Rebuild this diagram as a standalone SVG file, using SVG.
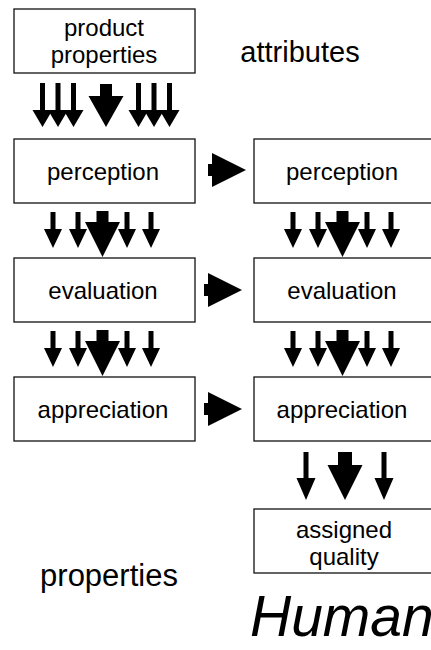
<svg xmlns="http://www.w3.org/2000/svg" xmlns:xlink="http://www.w3.org/1999/xlink" width="431" height="650" viewBox="0 0 431 650">
<style>
.box{fill:#fff;stroke:#222;stroke-width:1.4}
.t{font-family:"Liberation Sans",Arial,sans-serif;font-size:24px;fill:#000;text-anchor:middle}
.big{font-family:"Liberation Sans",Arial,sans-serif;font-size:30px;fill:#000;text-anchor:middle}
.hu{font-family:"Liberation Sans",Arial,sans-serif;font-size:57px;font-style:italic;fill:#000}
.ar{fill:#000;stroke:none}
</style>
<defs>
<g id="fan5" class="ar">
<polygon points="50.5,212 55.5,212 55.5,229 62,229 53,248 44,229 50.5,229"/>
<polygon points="75.5,212 80.5,212 80.5,229 87,229 78,248 69,229 75.5,229"/>
<polygon points="124.5,212 129.5,212 129.5,229 136,229 127,248 118,229 124.5,229"/>
<polygon points="148.5,212 153.5,212 153.5,229 160,229 151,248 142,229 148.5,229"/>
<polygon points="96.5,211 108.5,211 108.5,222 120,222 102.5,257 85,222 96.5,222"/>
</g>
<polygon id="harrow" class="ar" points="0,-6 4,-6 4,-17 38,0 4,17 4,6 0,6"/>
</defs>

<g id="product-properties">
<rect class="box" x="14" y="9" width="181" height="64"/>
<text class="t" x="104" y="36">product</text>
<text class="t" x="104" y="63">properties</text>
</g>
<g id="attributes-label"><text class="big" x="300" y="62" style="font-size:29px">attributes</text></g>

<g id="perception-left">
<rect class="box" x="14" y="139" width="181" height="64"/>
<text class="t" x="103" y="180">perception</text>
</g>
<g id="evaluation-left">
<rect class="box" x="14" y="258" width="181" height="64"/>
<text class="t" x="103" y="299">evaluation</text>
</g>
<g id="appreciation-left">
<rect class="box" x="14" y="377" width="181" height="64"/>
<text class="t" x="103" y="418">appreciation</text>
</g>

<g id="perception-right">
<rect class="box" x="254" y="139" width="181" height="64"/>
<text class="t" x="342" y="180">perception</text>
</g>
<g id="evaluation-right">
<rect class="box" x="254" y="258" width="181" height="64"/>
<text class="t" x="342" y="299">evaluation</text>
</g>
<g id="appreciation-right">
<rect class="box" x="254" y="377" width="181" height="64"/>
<text class="t" x="342" y="418">appreciation</text>
</g>
<g id="assigned-quality">
<rect class="box" x="254" y="509" width="181" height="64"/>
<text class="t" x="344" y="538">assigned</text>
<text class="t" x="344" y="565">quality</text>
</g>

<g id="properties-label"><text class="big" x="109" y="586" style="font-size:31px">properties</text></g>
<g id="human-label"><text class="hu" x="250" y="636">Human</text></g>

<g id="connectors" class="ar">
<polygon points="40,83 45,83 45,110 52.5,110 42.5,127 32.5,110 40,110"/>
<polygon points="55.5,83 60.5,83 60.5,110 68,110 58,127 48,110 55.5,110"/>
<polygon points="71,83 76,83 76,110 83.5,110 73.5,127 63.5,110 71,110"/>
<polygon points="100,84 112,84 112,96 123.5,96 106,127 88.5,96 100,96"/>
<polygon points="136,83 141,83 141,110 148.5,110 138.5,127 128.5,110 136,110"/>
<polygon points="151.5,83 156.5,83 156.5,110 164,110 154,127 144,110 151.5,110"/>
<polygon points="167,83 172,83 172,110 179.5,110 169.5,127 159.5,110 167,110"/>
<use xlink:href="#fan5"/>
<use xlink:href="#fan5" x="240"/>
<use xlink:href="#fan5" y="119"/>
<use xlink:href="#fan5" x="240" y="119"/>
<use xlink:href="#harrow" x="208" y="170"/>
<use xlink:href="#harrow" x="204" y="290"/>
<use xlink:href="#harrow" x="204" y="409"/>
<polygon points="303.5,452 308.5,452 308.5,478 315.5,478 306,500 296.5,478 303.5,478"/>
<polygon points="338,452 352,452 352,465 362.5,465 345,500 327.5,465 338,465"/>
<polygon points="381.5,452 386.5,452 386.5,478 393.5,478 384,500 374.5,478 381.5,478"/>
</g>
</svg>
